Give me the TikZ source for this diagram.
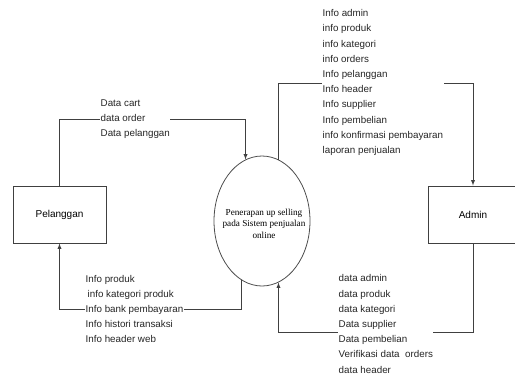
\documentclass[tikz,border=0pt]{standalone}
\usepackage{fontspec}
\setmainfont{Liberation Sans}
\newfontfamily\procfont{Liberation Serif}
\usetikzlibrary{shapes.geometric, arrows.meta, positioning}

\begin{document}
\begin{tikzpicture}[
  x = 1pt, y = -1pt,
  ent/.style    = {draw=black!75, line width=0.9pt, minimum width=93pt,
                   minimum height=57pt, font=\fontsize{10}{12}\selectfont},
  proc/.style   = {draw=black!70, ellipse, line width=0.8pt,
                   minimum width=96pt, minimum height=130pt, inner sep=0pt},
  proctext/.style = {font=\procfont\fontsize{9.2}{11.5}\selectfont,
                   align=center, inner sep=0pt},
  flow/.style   = {-latex, line width=0.9pt, draw=black!75},
  flabel/.style = {fill=white, inner sep=0.5pt, align=left, anchor=west,
                   font=\fontsize{9.8}{15.2}\selectfont, text=black!85}
]
\useasboundingbox (0,0) rectangle (515,376);

\node[ent] (pel) at (59.5,214.5) {Pelanggan};
\node[ent, minimum width=90pt] (adm) at (473,214.5) {Admin};
\node[proc] (sys) at (262,221) {};
\node[proctext] (systxt) at (264,223.5) {Penerapan up selling\\pada Sistem penjualan\\online};

\coordinate (ytop) at (0,83);
\coordinate (yleft) at (0,119);
\coordinate (ylow) at (0,309);
\coordinate (ybot) at (0,332);

\draw[flow] (pel.north) -- (pel.north |- yleft) -| (sys.105);
\draw[flow] (sys.75) -- (sys.75 |- ytop) -| (adm.north);
\draw[flow] (sys.251) -- (sys.251 |- ylow) -| (pel.south);
\draw[flow] (adm.south) -- (adm.south |- ybot) -| (sys.285);

\node[flabel] (lcart) at (100,119) {Data cart\\data order\\Data pelanggan};
\node[flabel] (linfo) at (322,82.5) {Info admin\\info produk\\info kategori\\info orders\\Info pelanggan\\Info header\\Info supplier\\Info pembelian\\info konfirmasi pembayaran\\laporan penjualan};
\node[flabel] (lprod) at (85,309) {Info produk\\\hspace{2pt}info kategori produk\\Info bank pembayaran\\Info histori transaksi\\Info header web};
\node[flabel] (ldata) at (338,324) {data admin\\data produk\\data kategori\\Data supplier\\Data pembelian\\Verifikasi data\ \ orders\\data header};

\end{tikzpicture}
\end{document}
